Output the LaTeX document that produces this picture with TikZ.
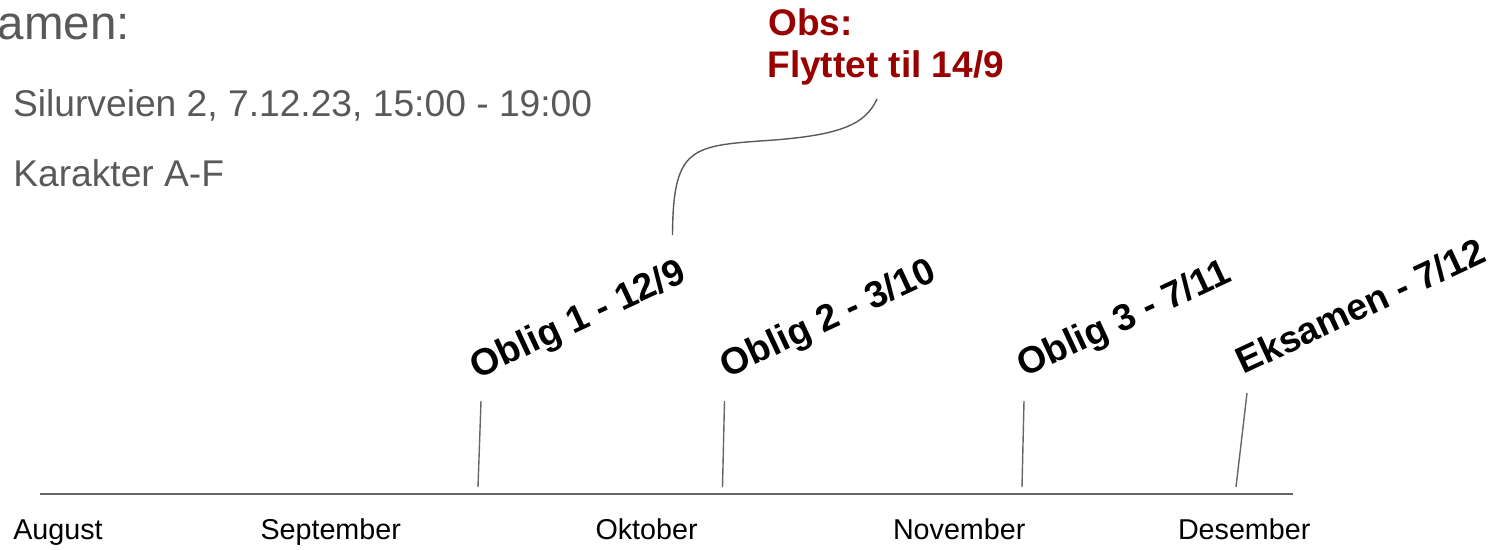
\documentclass[tikz,border=0pt]{standalone}
\usepackage{fontspec}
\setmainfont{Liberation Sans}
\definecolor{txtgray}{HTML}{595959}
\definecolor{linegray}{HTML}{666666}
\definecolor{obsred}{HTML}{990000}
\begin{document}
\begin{tikzpicture}[x=1pt,y=-1pt,
  every node/.style={inner sep=0pt,outer sep=0pt,anchor=base west},
  info/.style={text=txtgray,font=\fontsize{37.2}{44}\selectfont},
  title/.style={text=txtgray,font=\fontsize{47.5}{52}\selectfont},
  month/.style={text=black,font=\fontsize{28.7}{34}\selectfont},
  event/.style={text=black,font=\bfseries\fontsize{37.3}{44}\selectfont,rotate=25},
  obs/.style={text=obsred,font=\bfseries\fontsize{37}{46}\selectfont},
  tick/.style={draw=linegray,line width=1.4pt},
  axis/.style={draw=linegray,line width=2pt},
  callout/.style={draw=txtgray,line width=1.4pt}]
\useasboundingbox (0,0) rectangle (1502,549);
% header texts
\node[title] (title) at (-2,39.5) {amen:};
\node[info] (place) at (13.1,116) {Silurveien 2, 7.12.23, 15:00 - 19:00};
\node[info] (grade) at (13.3,186) {Karakter A-F};
% obs note
\node[obs] (obs) at (768.4,35) {Obs:};
\node[obs] (moved) at (767.5,77.5) {Flyttet til 14/9};
% axis
\coordinate (axL) at (40,494);
\coordinate (axR) at (1293,494);
\draw[axis] (axL) -- (axR);
% months
\node[month] (aug) at (13.3,539.5) {August};
\node[month] (sep) at (260.5,539.5) {September};
\node[month] (okt) at (595.5,539.5) {Oktober};
\node[month] (nov) at (893,539.5) {November};
\node[month] (des) at (1178,539.5) {Desember};
% events
\node[event] (o1) at (477.5,379) {Oblig 1 - 12/9};
\node[event] (o2) at (727.5,378) {Oblig 2 - 3/10};
\node[event] (o3) at (1024.5,377.7) {Oblig 3 - 7/11};
\node[event] (ek) at (1243.7,374.8) {Eksamen - 7/12};
% ticks
\coordinate (t1a) at (481,401); \coordinate (t1b) at (478,487);
\coordinate (t2a) at (724.5,401); \coordinate (t2b) at (722.5,487);
\coordinate (t3a) at (1024,401); \coordinate (t3b) at (1022,487);
\coordinate (t4a) at (1247,393); \coordinate (t4b) at (1236,487);
\draw[tick] (t1a) -- (t1b);
\draw[tick] (t2a) -- (t2b);
\draw[tick] (t3a) -- (t3b);
\draw[tick] (t4a) -- (t4b);
% callout curve
\coordinate (cA) at (672.5,235);
\coordinate (cM) at (760,141);
\coordinate (cB) at (877,99);
\draw[callout] (cA) .. controls (673,150) and (690,146) .. (cM)
  .. controls (840,136) and (865,125) .. (cB);
\end{tikzpicture}
\end{document}
